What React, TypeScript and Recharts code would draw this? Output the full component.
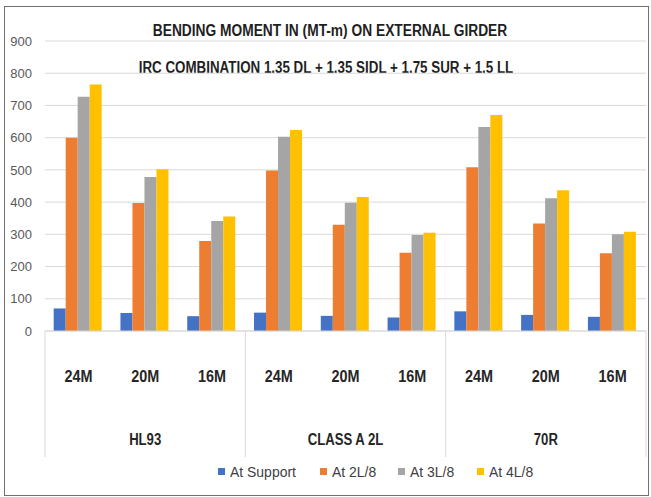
import React from "react";
import { Bar, BarChart, CartesianGrid, Legend, XAxis, YAxis } from "recharts";

const spans = ["24M", "20M", "16M", "24M", "20M", "16M", "24M", "20M", "16M"];
const loadGroups = ["HL93", "CLASS A 2L", "70R"];
const atSupport = [70, 56, 46, 57, 47, 42, 61, 50, 44];
const at2L8 = [600, 397, 279, 498, 330, 243, 508, 334, 241];
const at3L8 = [727, 478, 341, 603, 398, 298, 633, 412, 300];
const at4L8 = [765, 502, 355, 624, 416, 305, 670, 437, 308];
const yTicks = [0, 100, 200, 300, 400, 500, 600, 700, 800, 900];

const SERIES = [
  { key: "support", name: "At Support", color: "#4472C4" },
  { key: "l2", name: "At 2L/8", color: "#ED7D31" },
  { key: "l3", name: "At 3L/8", color: "#A5A5A5" },
  { key: "l4", name: "At 4L/8", color: "#FFC000" },
];

const rows = spans.map((span, i) => ({
  id: `${loadGroups[Math.floor(i / 3)]}-${span}`,
  span,
  support: atSupport[i],
  l2: at2L8[i],
  l3: at3L8[i],
  l4: at4L8[i],
}));

const W = 651;
const H = 497;
const LEFT = 45;
const RIGHT = 5;
const BAND = (W - LEFT - RIGHT) / spans.length;
const SANS = "'Liberation Sans', Arial, sans-serif";
// no narrow face installed, so squeeze the bold sans horizontally instead
const SQUEEZE = 0.82;

// two-level category axis: span under each bar group, load case under each block of three
function SpanTick(props: any) {
  const { x, y, index } = props;
  const sep = "#d9d9d9";
  return (
    <g>
      {index % 3 === 0 && <line x1={x - BAND / 2} x2={x - BAND / 2} y1={y} y2={y + 126} stroke={sep} />}
      {index === spans.length - 1 && <line x1={x + BAND / 2} x2={x + BAND / 2} y1={y} y2={y + 126} stroke={sep} />}
      <text
        transform={`translate(${x},${y + 47}) scale(0.9,1)`}
        textAnchor="middle"
        dominantBaseline="middle"
        fontFamily={SANS}
        fontWeight="bold"
        fontSize={16}
        fill="#262626"
      >
        {spans[index]}
      </text>
      {index % 3 === 1 && (
        <text
          transform={`translate(${x},${y + 110}) scale(${SQUEEZE},1)`}
          textAnchor="middle"
          dominantBaseline="middle"
          fontFamily={SANS}
          fontWeight="bold"
          fontSize={16}
          fill="#262626"
        >
          {loadGroups[Math.floor(index / 3)]}
        </text>
      )}
    </g>
  );
}

function LegendRow() {
  return (
    <div style={{ display: "flex", paddingLeft: 218, gap: 23, fontFamily: SANS, fontSize: 15, color: "#404040" }}>
      {SERIES.map((s) => (
        <span key={s.key} style={{ display: "flex", alignItems: "center", gap: 5 }}>
          <span style={{ width: 7, height: 7, background: s.color, display: "inline-block" }} />
          <span style={{ display: "inline-block", transform: "scaleX(0.93)", transformOrigin: "left center", marginRight: -4 }}>{s.name}</span>
        </span>
      ))}
    </div>
  );
}

const titleStyle: React.CSSProperties = {
  position: "absolute",
  left: 0,
  textAlign: "center",
  fontFamily: SANS,
  fontWeight: "bold",
  fontSize: 16,
  color: "#1f1f1f",
  whiteSpace: "nowrap",
};

export default function App() {
  return (
    <div style={{ position: "fixed", left: 0, top: 0, width: W, height: H, background: "#fff", overflow: "hidden" }}>
      <div style={{ position: "absolute", left: 4, top: 6, width: 643, height: 488, border: "1.5px solid #707070" }} />
      <div style={{ ...titleStyle, top: 22, width: 660, transform: "scaleX(0.86)" }}>
        BENDING MOMENT IN (MT-m) ON EXTERNAL GIRDER
      </div>
      <div style={{ ...titleStyle, top: 59, width: 652, transform: "scaleX(0.835)" }}>
        IRC COMBINATION 1.35 DL + 1.35 SIDL + 1.75 SUR + 1.5 LL
      </div>
      <BarChart
        width={W}
        height={H}
        data={rows}
        margin={{ top: 41, right: RIGHT, bottom: 0, left: 0 }}
        barCategoryGap="13%"
        barGap={0}
      >
        <CartesianGrid stroke="#d9d9d9" vertical={false} />
        <XAxis
          dataKey="id"
          axisLine={{ stroke: "#d9d9d9" }}
          tickLine={false}
          tickSize={0}
          tickMargin={0}
          interval={0}
          height={140}
          tick={<SpanTick />}
        />
        <YAxis
          width={LEFT}
          domain={[0, 900]}
          ticks={yTicks}
          axisLine={false}
          tickLine={false}
          tickSize={0}
          tickMargin={13}
          tick={{ fontSize: 13, fill: "#595959", fontFamily: SANS }}
        />
        <Legend verticalAlign="bottom" height={26} wrapperStyle={{ top: 463, bottom: "auto" }} content={<LegendRow />} />
        {SERIES.map((s) => (
          <Bar key={s.key} dataKey={s.key} name={s.name} fill={s.color} isAnimationActive={false} />
        ))}
      </BarChart>
    </div>
  );
}
